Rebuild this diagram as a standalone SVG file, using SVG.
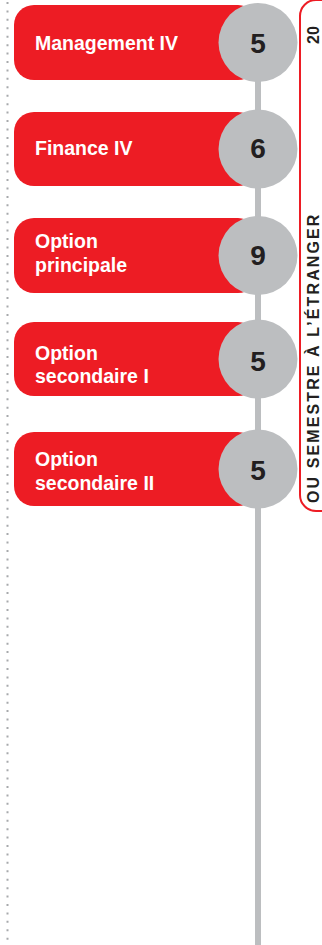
<svg xmlns="http://www.w3.org/2000/svg" width="322" height="945" viewBox="0 0 322 945">
<style>
.pill{fill:#ed1c24}
.num-c{fill:#bcbec0}
.lbl{font-family:"Liberation Sans",Arial,sans-serif;font-weight:bold;font-size:19.5px;fill:#ffffff}
.num{font-family:"Liberation Sans",Arial,sans-serif;font-weight:bold;font-size:28px;fill:#231f20;text-anchor:middle}
.vt{font-family:"Liberation Sans",Arial,sans-serif;font-weight:bold;font-size:16px;fill:#231f20}
</style>
<rect width="322" height="945" fill="#ffffff"/>
<g id="connectors">
<line x1="7.5" y1="2" x2="7.5" y2="940" stroke="#a7a9ac" stroke-width="2" stroke-dasharray="2 6.43"/>
<line x1="258" y1="42" x2="258" y2="945" stroke="#bcbec0" stroke-width="6"/>
</g>
<g id="node-management">
<rect class="pill" x="14" y="5" width="244" height="75" rx="20"/>
<circle class="num-c" cx="258" cy="42.5" r="39.5"/>
<text class="lbl" x="35" y="50">Management IV</text>
<text class="num" x="258" y="53">5</text>
</g>
<g id="node-finance">
<rect class="pill" x="14" y="112" width="244" height="74" rx="20"/>
<circle class="num-c" cx="258" cy="149" r="39.5"/>
<text class="lbl" x="35" y="155">Finance IV</text>
<text class="num" x="258" y="158">6</text>
</g>
<g id="node-option-principale">
<rect class="pill" x="14" y="218" width="244" height="75" rx="20"/>
<circle class="num-c" cx="258" cy="255.5" r="39.5"/>
<text class="lbl" x="35" y="248">Option</text>
<text class="lbl" x="35" y="272">principale</text>
<text class="num" x="258" y="265">9</text>
</g>
<g id="node-option-secondaire-1">
<rect class="pill" x="14" y="322" width="244" height="74" rx="20"/>
<circle class="num-c" cx="258" cy="359" r="39.5"/>
<text class="lbl" x="35" y="360">Option</text>
<text class="lbl" x="35" y="383">secondaire I</text>
<text class="num" x="258" y="371">5</text>
</g>
<g id="node-option-secondaire-2">
<rect class="pill" x="14" y="432" width="244" height="74" rx="20"/>
<circle class="num-c" cx="258" cy="469" r="39.5"/>
<text class="lbl" x="35" y="466">Option</text>
<text class="lbl" x="35" y="490">secondaire II</text>
<text class="num" x="258" y="480">5</text>
</g>
<g id="node-semestre">
<rect x="300" y="0" width="60" height="511" rx="16" fill="none" stroke="#ed1c24" stroke-width="2"/>
<text class="vt" transform="translate(318.5,44) rotate(-90)">20</text>
<text class="vt" letter-spacing="2.1" transform="translate(318.5,503) rotate(-90)">OU SEMESTRE À L’ÉTRANGER</text>
</g>
</svg>
